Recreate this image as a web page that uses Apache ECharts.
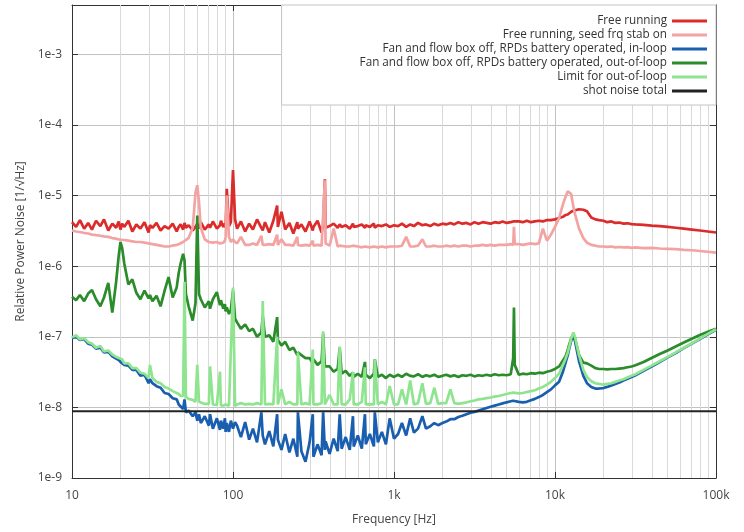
<!DOCTYPE html>
<html>
<head>
<meta charset="utf-8">
<title>Relative Power Noise</title>
<script src="https://cdn.jsdelivr.net/npm/echarts@6/dist/echarts.min.js"></script>
<style>
  html, body { margin: 0; padding: 0; background: #fff; }
  #main { width: 744px; height: 532px; }
</style>
</head>
<body>
<div id="main"></div>
<script>
// frequency grid [Hz], one row per decade
var freqs = [
  10, 10.6, 11.2, 11.9, 12.6, 13.3, 14.1, 15, 15.8, 16.8, 17.8, 18.8, 19.5, 20, 20.5, 21.1, 22.4, 23.7, 25.1, 26.6, 28.2, 29.9, 30.5, 31.6, 33.5, 35.5, 37.6, 39.8, 42.2, 44.7, 46, 47.3, 49, 50, 51, 53, 56.2, 58.5, 60, 61.5, 63.1, 66.8, 70.8, 72, 75, 79.4, 83, 84.1, 87, 89.1, 90, 91.5, 94.4, 97, 100, 103,
  106, 112, 119, 126, 133, 141, 150, 153, 158, 168, 178, 188, 190, 200, 211, 224, 237, 251, 253, 266, 282, 299, 313, 316, 335, 355, 363, 372, 376, 398, 422, 447, 460, 473, 501, 531, 556, 562, 596, 631, 660, 668, 708, 750, 760, 794, 841, 891, 940, 1000,
  1060, 1120, 1190, 1260, 1330, 1410, 1500, 1580, 1680, 1780, 1880, 2000, 2110, 2240, 2370, 2510, 2660, 2820, 2990, 3160, 3350, 3550, 3760, 3980, 4220, 4470, 4730, 5010, 5310, 5500, 5560, 5620, 5960, 6310, 6680, 7080, 7500, 7940, 8410, 8910, 9440, 10000,
  10600, 11200, 11600, 12000, 12300, 12600, 13000, 13300, 14100, 15000, 15800, 16800, 17800, 18800, 20000, 21100, 22400, 23700, 25100, 26600, 28200, 29900, 31600, 35500, 39800, 44700, 50100, 56200, 63100, 70800, 79400, 89100, 100000
];

var freeRunning = [
  4.2e-6, 3.6e-6, 4.5e-6, 3.4e-6, 4.1e-6, 3.3e-6, 4.4e-6, 3.7e-6, 4.6e-6, 3.2e-6, 4.0e-6, 3.5e-6, 4.3e-6, 3.3e-6, 4.0e-6, 3.6e-6, 4.4e-6, 3.1e-6, 3.9e-6, 3.4e-6, 4.2e-6, 3.0e-6, 3.8e-6, 3.5e-6, 4.1e-6, 3.2e-6, 3.7e-6, 3.4e-6, 4.0e-6, 3.1e-6, 3.6e-6, 3.9e-6, 3.3e-6, 4.1e-6, 3.5e-6, 3.8e-6, 3.2e-6, 3.6e-6, 4.0e-6, 3.4e-6, 4.2e-6, 3.3e-6, 3.9e-6, 3.5e-6, 4.3e-6, 3.4e-6, 3.8e-6, 4.4e-6, 3.6e-6, 4.0e-6, 3.5e-6, 1.25e-5, 3.7e-6, 4.2e-6, 2.3e-5, 4.6e-6,
  3.4e-6, 4.3e-6, 3.1e-6, 4.0e-6, 3.3e-6, 4.6e-6, 3.5e-6, 3.2e-6, 4.2e-6, 3.0e-6, 4.4e-6, 7.2e-6, 3.6e-6, 5.9e-6, 3.3e-6, 4.1e-6, 2.9e-6, 4.2e-6, 3.4e-6, 3.9e-6, 3.1e-6, 4.3e-6, 3.2e-6, 3.6e-6, 4.4e-6, 3.0e-6, 3.8e-6, 1.7e-5, 3.5e-6, 3.7e-6, 4.0e-6, 3.5e-6, 3.9e-6, 3.6e-6, 3.8e-6, 3.4e-6, 4.0e-6, 3.6e-6, 3.7e-6, 3.9e-6, 3.5e-6, 3.8e-6, 3.6e-6, 4.0e-6, 3.5e-6, 3.8e-6, 3.7e-6, 3.9e-6, 3.6e-6, 3.8e-6,
  3.7e-6, 4.0e-6, 3.6e-6, 3.9e-6, 3.7e-6, 4.1e-6, 3.8e-6, 3.9e-6, 3.7e-6, 4.0e-6, 3.8e-6, 4.0e-6, 3.9e-6, 4.1e-6, 3.9e-6, 4.2e-6, 4.0e-6, 4.1e-6, 3.9e-6, 4.2e-6, 4.0e-6, 4.2e-6, 4.1e-6, 4.0e-6, 4.2e-6, 4.1e-6, 4.3e-6, 4.1e-6, 4.2e-6, 4.3e-6, 4.1e-6, 4.2e-6, 4.3e-6, 4.2e-6, 4.4e-6, 4.2e-6, 4.3e-6, 4.4e-6, 4.3e-6, 4.5e-6, 4.5e-6, 4.6e-6,
  4.8e-6, 5.0e-6, 5.3e-6, 5.4e-6, 5.7e-6, 5.9e-6, 6.1e-6, 6.2e-6, 6.4e-6, 6.3e-6, 6.0e-6, 4.9e-6, 4.6e-6, 4.5e-6, 4.4e-6, 4.2e-6, 4.3e-6, 4.1e-6, 4.15e-6, 4.0e-6, 4.05e-6, 3.95e-6, 3.9e-6, 3.85e-6, 3.75e-6, 3.7e-6, 3.6e-6, 3.5e-6, 3.4e-6, 3.3e-6, 3.2e-6, 3.1e-6, 3.0e-6
];

var seedStab = [
  3.2e-6, 3.1e-6, 3.05e-6, 2.95e-6, 2.9e-6, 2.8e-6, 2.75e-6, 2.7e-6, 2.65e-6, 2.6e-6, 2.5e-6, 2.45e-6, 2.4e-6, 2.4e-6, 2.35e-6, 2.35e-6, 2.3e-6, 2.25e-6, 2.2e-6, 2.2e-6, 2.15e-6, 2.1e-6, 2.1e-6, 2.05e-6, 2.0e-6, 1.95e-6, 1.9e-6, 1.9e-6, 1.95e-6, 2.0e-6, 2.05e-6, 2.1e-6, 2.2e-6, 2.3e-6, 2.35e-6, 2.5e-6, 3.5e-6, 1.1e-5, 1.4e-5, 8e-6, 3.5e-6, 2.4e-6, 2.2e-6, 2.25e-6, 2.15e-6, 2.2e-6, 2.1e-6, 2.2e-6, 2.15e-6, 2.3e-6, 2.6e-6, 1.0e-5, 2.6e-6, 2.2e-6, 2.4e-6, 2.2e-6,
  2.1e-6, 2.6e-6, 2.0e-6, 2.0e-6, 2.1e-6, 2.0e-6, 2.7e-6, 2.0e-6, 2.0e-6, 2.05e-6, 2.0e-6, 2.8e-6, 2.0e-6, 2.4e-6, 2.0e-6, 2.0e-6, 1.95e-6, 2.6e-6, 2.0e-6, 1.95e-6, 2.0e-6, 1.95e-6, 2.3e-6, 1.95e-6, 2.0e-6, 1.95e-6, 2.0e-6, 1.65e-5, 2.1e-6, 1.95e-6, 3.4e-6, 1.9e-6, 1.95e-6, 1.9e-6, 1.9e-6, 1.9e-6, 1.95e-6, 1.9e-6, 1.9e-6, 1.85e-6, 1.9e-6, 1.9e-6, 1.85e-6, 1.9e-6, 1.9e-6, 1.85e-6, 1.9e-6, 1.85e-6, 1.9e-6, 1.9e-6,
  1.9e-6, 1.95e-6, 2.6e-6, 1.9e-6, 1.9e-6, 1.95e-6, 2.4e-6, 1.9e-6, 1.9e-6, 1.95e-6, 1.9e-6, 1.9e-6, 1.95e-6, 1.9e-6, 1.95e-6, 1.9e-6, 1.95e-6, 1.95e-6, 1.9e-6, 1.95e-6, 1.95e-6, 2.0e-6, 1.95e-6, 2.0e-6, 1.95e-6, 2.0e-6, 2.0e-6, 2.0e-6, 2.05e-6, 2.0e-6, 3.6e-6, 2.05e-6, 2.05e-6, 2.0e-6, 2.05e-6, 2.1e-6, 2.05e-6, 2.1e-6, 3.4e-6, 2.3e-6, 2.8e-6, 3.6e-6,
  4.8e-6, 7.5e-6, 9.5e-6, 1.15e-5, 1.2e-5, 1.05e-5, 7.0e-6, 5.5e-6, 3.4e-6, 2.5e-6, 2.15e-6, 2.0e-6, 1.95e-6, 1.9e-6, 1.9e-6, 1.88e-6, 1.9e-6, 1.85e-6, 1.87e-6, 1.85e-6, 1.86e-6, 1.82e-6, 1.85e-6, 1.8e-6, 1.82e-6, 1.78e-6, 1.76e-6, 1.74e-6, 1.7e-6, 1.68e-6, 1.64e-6, 1.6e-6, 1.56e-6
];

var inLoop = [
  9.5e-8, 1.0e-7, 9.0e-8, 9.3e-8, 8.0e-8, 7.7e-8, 6.8e-8, 7.0e-8, 6.0e-8, 6.1e-8, 5.3e-8, 4.9e-8, 4.7e-8, 4.4e-8, 4.5e-8, 4.0e-8, 3.9e-8, 3.4e-8, 3.4e-8, 2.8e-8, 2.9e-8, 2.2e-8, 2.5e-8, 2.2e-8, 2.0e-8, 1.9e-8, 1.6e-8, 1.55e-8, 1.35e-8, 1.3e-8, 1.1e-8, 1.15e-8, 9.5e-9, 1.3e-8, 8.5e-9, 9.0e-9, 7.5e-9, 8.5e-9, 6.5e-9, 8.0e-9, 6.0e-9, 7.5e-9, 5.5e-9, 8.0e-9, 5.0e-9, 7.0e-9, 4.8e-9, 6.5e-9, 5.0e-9, 7.0e-9, 4.5e-9, 6.0e-9, 4.5e-9, 6.5e-9, 5.0e-9, 6.2e-9,
  5.5e-9, 3.8e-9, 6.2e-9, 3.5e-9, 5.0e-9, 3.2e-9, 8.5e-9, 4.0e-9, 3.0e-9, 4.6e-9, 2.8e-9, 8.0e-9, 3.5e-9, 2.5e-9, 4.2e-9, 2.3e-9, 3.6e-9, 2.0e-9, 8.5e-9, 2.4e-9, 1.7e-9, 3.2e-9, 8.0e-9, 2.0e-9, 3.0e-9, 2.1e-9, 8.5e-9, 2.5e-9, 3.3e-9, 2.2e-9, 3.6e-9, 2.4e-9, 8.0e-9, 2.6e-9, 3.8e-9, 2.5e-9, 7.5e-9, 2.8e-9, 4.0e-9, 2.6e-9, 8.0e-9, 3.0e-9, 4.2e-9, 2.8e-9, 8.5e-9, 3.2e-9, 4.5e-9, 3.0e-9, 7.0e-9, 3.6e-9,
  4.2e-9, 6.0e-9, 4.0e-9, 7.0e-9, 4.4e-9, 5.0e-9, 7.5e-9, 5.0e-9, 5.4e-9, 6.0e-9, 5.6e-9, 6.0e-9, 6.3e-9, 6.8e-9, 6.8e-9, 7.3e-9, 7.6e-9, 8.0e-9, 8.4e-9, 8.6e-9, 9.0e-9, 9.4e-9, 9.8e-9, 1.02e-8, 1.06e-8, 1.1e-8, 1.14e-8, 1.18e-8, 1.22e-8, 1.24e-8, 1.24e-8, 1.23e-8, 1.2e-8, 1.18e-8, 1.2e-8, 1.26e-8, 1.32e-8, 1.4e-8, 1.5e-8, 1.65e-8, 1.8e-8, 2.05e-8,
  2.3e-8, 3.2e-8, 4.2e-8, 5.5e-8, 7.0e-8, 8.8e-8, 1.0e-7, 8.8e-8, 4.5e-8, 2.8e-8, 2.2e-8, 1.95e-8, 1.85e-8, 1.85e-8, 1.88e-8, 1.95e-8, 2.05e-8, 2.15e-8, 2.25e-8, 2.4e-8, 2.55e-8, 2.7e-8, 2.85e-8, 3.3e-8, 3.8e-8, 4.4e-8, 5.1e-8, 5.9e-8, 6.9e-8, 8.0e-8, 9.3e-8, 1.08e-7, 1.25e-7
];

var outLoop = [
  3.7e-7, 3.3e-7, 3.9e-7, 3.2e-7, 4.1e-7, 4.6e-7, 3.4e-7, 2.7e-7, 3.6e-7, 5.8e-7, 2.2e-7, 6.0e-7, 1.4e-6, 2.2e-6, 1.8e-6, 1.1e-6, 5.5e-7, 6.5e-7, 4.2e-7, 3.4e-7, 4.5e-7, 3.5e-7, 3.9e-7, 3.2e-7, 3.8e-7, 2.7e-7, 4.5e-7, 7.0e-7, 3.6e-7, 5.0e-7, 8.0e-7, 1.1e-6, 1.5e-6, 1.2e-6, 4.0e-7, 2.7e-7, 1.7e-7, 3.0e-7, 5.2e-6, 4.0e-7, 3.4e-7, 2.6e-7, 3.2e-7, 2.5e-7, 3.4e-7, 4.3e-7, 2.8e-7, 3.3e-7, 2.5e-7, 2.9e-7, 2.3e-7, 2.6e-7, 2.1e-7, 2.4e-7, 4.5e-7, 1.8e-7,
  1.6e-7, 1.3e-7, 1.5e-7, 1.2e-7, 1.3e-7, 1.0e-7, 1.15e-7, 2.0e-7, 1.0e-7, 1.05e-7, 8.5e-8, 1.9e-7, 9.0e-8, 7.5e-8, 8.5e-8, 6.5e-8, 7.0e-8, 5.5e-8, 6.0e-8, 5.5e-8, 5.0e-8, 5.0e-8, 4.2e-8, 4.8e-8, 4.0e-8, 4.5e-8, 1.1e-7, 3.8e-8, 3.6e-8, 3.8e-8, 3.2e-8, 3.5e-8, 7.0e-8, 3.0e-8, 3.3e-8, 2.8e-8, 3.1e-8, 2.7e-8, 3.0e-8, 2.7e-8, 4.4e-8, 2.9e-8, 2.6e-8, 3.0e-8, 4.8e-8, 2.7e-8, 2.9e-8, 2.6e-8, 2.9e-8, 2.7e-8,
  2.9e-8, 2.7e-8, 3.0e-8, 2.8e-8, 2.75e-8, 2.95e-8, 2.7e-8, 2.85e-8, 2.75e-8, 2.9e-8, 2.7e-8, 2.8e-8, 2.9e-8, 2.75e-8, 2.85e-8, 2.7e-8, 2.85e-8, 2.8e-8, 2.9e-8, 2.75e-8, 2.85e-8, 2.8e-8, 2.9e-8, 2.8e-8, 2.95e-8, 2.85e-8, 2.9e-8, 2.85e-8, 2.95e-8, 5.0e-8, 2.6e-7, 4.0e-8, 2.9e-8, 3.0e-8, 2.95e-8, 3.05e-8, 3.0e-8, 3.1e-8, 3.05e-8, 3.2e-8, 3.3e-8, 3.5e-8,
  3.8e-8, 4.6e-8, 5.2e-8, 6.5e-8, 8.0e-8, 9.5e-8, 1.08e-7, 9.5e-8, 5.5e-8, 4.3e-8, 4.2e-8, 3.9e-8, 3.6e-8, 3.5e-8, 3.5e-8, 3.45e-8, 3.5e-8, 3.5e-8, 3.55e-8, 3.6e-8, 3.7e-8, 3.8e-8, 3.95e-8, 4.4e-8, 5.0e-8, 5.7e-8, 6.4e-8, 7.3e-8, 8.3e-8, 9.4e-8, 1.06e-7, 1.18e-7, 1.3e-7
];

var outLoopLimit = [
  9.8e-8, 1.05e-7, 9.2e-8, 9.6e-8, 8.4e-8, 8.0e-8, 7.0e-8, 7.4e-8, 6.2e-8, 6.4e-8, 5.6e-8, 5.2e-8, 5.0e-8, 4.7e-8, 4.8e-8, 4.2e-8, 4.2e-8, 3.6e-8, 3.6e-8, 3.1e-8, 3.0e-8, 2.6e-8, 4.0e-8, 2.6e-8, 2.3e-8, 2.2e-8, 1.95e-8, 1.85e-8, 1.7e-8, 1.6e-8, 1.55e-8, 1.45e-8, 1.45e-8, 6.0e-7, 1.4e-8, 1.32e-8, 1.28e-8, 1.2e-8, 4.0e-8, 1.2e-8, 1.18e-8, 1.12e-8, 1.12e-8, 3.8e-8, 1.1e-8, 1.08e-8, 3.2e-8, 1.07e-8, 1.06e-8, 1.05e-8, 1.1e-8, 1.05e-8, 1.06e-8, 1.04e-8, 5.0e-7, 1.05e-8,
  1.1e-8, 1.15e-8, 1.1e-8, 1.12e-8, 1.1e-8, 1.15e-8, 1.1e-8, 3.2e-7, 1.1e-8, 1.12e-8, 1.1e-8, 1.0e-7, 1.1e-8, 1.8e-8, 1.1e-8, 1.2e-8, 1.1e-8, 1.1e-8, 6.0e-8, 1.1e-8, 1.15e-8, 1.1e-8, 6.6e-8, 1.1e-8, 1.1e-8, 1.15e-8, 1.2e-7, 1.1e-8, 1.1e-8, 1.5e-8, 1.1e-8, 1.1e-8, 7.3e-8, 1.1e-8, 1.1e-8, 1.3e-8, 3.2e-8, 1.1e-8, 1.1e-8, 1.2e-8, 3.7e-8, 1.1e-8, 1.1e-8, 1.1e-8, 4.8e-8, 1.1e-8, 1.2e-8, 1.1e-8, 2.0e-8, 1.1e-8,
  1.1e-8, 1.8e-8, 1.1e-8, 2.4e-8, 1.1e-8, 1.15e-8, 2.2e-8, 1.12e-8, 1.15e-8, 1.9e-8, 1.12e-8, 1.15e-8, 1.15e-8, 1.8e-8, 1.15e-8, 1.12e-8, 1.15e-8, 1.18e-8, 1.22e-8, 1.25e-8, 1.3e-8, 1.32e-8, 1.35e-8, 1.38e-8, 1.42e-8, 1.45e-8, 1.5e-8, 1.55e-8, 1.6e-8, 1.62e-8, 1.62e-8, 1.6e-8, 1.58e-8, 1.6e-8, 1.65e-8, 1.7e-8, 1.75e-8, 1.85e-8, 1.95e-8, 2.1e-8, 2.3e-8, 2.6e-8,
  3.0e-8, 4.0e-8, 4.8e-8, 6.0e-8, 7.5e-8, 9.5e-8, 1.15e-7, 1.0e-7, 5.5e-8, 3.4e-8, 2.7e-8, 2.35e-8, 2.2e-8, 2.15e-8, 2.1e-8, 2.15e-8, 2.2e-8, 2.3e-8, 2.4e-8, 2.5e-8, 2.65e-8, 2.8e-8, 2.95e-8, 3.4e-8, 3.9e-8, 4.5e-8, 5.2e-8, 6.0e-8, 7.0e-8, 8.1e-8, 9.4e-8, 1.1e-7, 1.28e-7
];

var shotFreq = [10, 100000];
var shotNoise = [8.8e-9, 8.8e-9];

var names = [
  'Free running',
  'Free running, seed frq stab on',
  'Fan and flow box off, RPDs battery operated, in-loop',
  'Fan and flow box off, RPDs battery operated, out-of-loop',
  'Limit for out-of-loop',
  'shot noise total'
];
var colors = ['#dc2b2b', '#f4a3a3', '#1a5eaf', '#2a8c2a', '#8fe58f', '#222222'];
var xTickLabels = ['10', '100', '1k', '10k', '100k'];
var yTickLabels = ['1e-9', '1e-8', '1e-7', '1e-6', '1e-5', '1e-4', '1e-3'];

// minor grid positions 2..9 in each decade
var minorX = [], minorY = [];
for (var d = 1; d <= 4; d++) for (var k = 2; k <= 9; k++) minorX.push(k * Math.pow(10, d));
for (var e = -9; e <= -3; e++) for (var k2 = 2; k2 <= 9; k2++) {
  var v = k2 * Math.pow(10, e);
  if (v < 5e-3) minorY.push(v);
}

function pairs(xs, ys) {
  return xs.map(function (x, i) { return [x, ys[i]]; });
}

function decadeIndex(v) {
  var l = Math.log10(v), r = Math.round(l);
  return Math.abs(l - r) < 1e-6 ? r : null;
}

var font = 'Open Sans';
var frame = '#333';

var seriesValues = [freeRunning, seedStab, inLoop, outLoop, outLoopLimit];
var series = [{
  type: 'line', name: 'minor-grid', data: [], silent: true, z: 1,
  markLine: {
    silent: true, symbol: ['none', 'none'], z: 1, animation: false,
    label: { show: false },
    lineStyle: { color: '#d9d9d9', width: 1, type: 'solid' },
    data: minorX.map(function (x) { return { xAxis: x }; })
      .concat(minorY.map(function (y) { return { yAxis: y }; }))
  }
}];
seriesValues.forEach(function (vals, i) {
  series.push({
    type: 'line', name: names[i], data: pairs(freqs, vals),
    symbol: 'none', showSymbol: false, sampling: null,
    lineStyle: { width: 2.7, color: colors[i], join: 'bevel' }, itemStyle: { color: colors[i] },
    z: 2 + i
  });
});
series.push({
  type: 'line', name: names[5], data: pairs(shotFreq, shotNoise),
  symbol: 'none', showSymbol: false,
  lineStyle: { width: 2, color: colors[5] }, itemStyle: { color: colors[5] },
  z: 8
});

var chart = echarts.init(document.getElementById('main'));
chart.setOption({
  animation: false,
  backgroundColor: '#fff',
  textStyle: { fontFamily: font },
  grid: { left: 72, right: 28, top: 5, bottom: 54 },
  legend: {
    data: names.map(function (n, i) { return { name: n, icon: 'rect', itemStyle: { color: colors[i] } }; }),
    orient: 'vertical', right: 28, top: 5, align: 'right',
    itemWidth: 35, itemHeight: 3, itemGap: 2,
    padding: [10, 9, 8, 78],
    backgroundColor: '#fff', borderColor: '#c4c4c4', borderWidth: 1,
    textStyle: { fontSize: 11.7, color: '#333', fontFamily: font },
    selectedMode: false
  },
  xAxis: [{
    type: 'log', logBase: 10, min: 10, max: 100000,
    name: 'Frequency [Hz]', nameLocation: 'middle', nameGap: 36,
    nameTextStyle: { fontSize: 12, color: '#444', fontFamily: font },
    axisLine: { show: true, lineStyle: { color: frame } },
    axisTick: { show: true, inside: true, length: 6, lineStyle: { color: frame } },
    axisLabel: {
      margin: 12, fontSize: 12, color: '#444', fontFamily: font,
      formatter: function (v) { var r = decadeIndex(v); return r == null ? '' : (xTickLabels[r - 1] || ''); }
    },
    splitLine: { show: true, lineStyle: { color: '#c2c2c2', width: 1 } }
  }, {
    type: 'log', logBase: 10, min: 10, max: 100000, position: 'top',
    axisLine: { show: true, lineStyle: { color: frame } },
    axisTick: { show: true, inside: true, length: 6, lineStyle: { color: frame } },
    axisLabel: { show: false }, splitLine: { show: false }
  }],
  yAxis: [{
    type: 'log', logBase: 10, min: 1e-9, max: 5e-3,
    name: 'Relative Power Noise [1/\u221AHz]', nameLocation: 'middle', nameGap: 40,
    nameTextStyle: { fontSize: 12, color: '#444', fontFamily: font },
    axisLine: { show: true, lineStyle: { color: frame } },
    axisTick: { show: true, inside: true, length: 6, lineStyle: { color: frame } },
    axisLabel: {
      margin: 10, fontSize: 12, color: '#444', fontFamily: font,
      formatter: function (v) { var r = decadeIndex(v); return r == null ? '' : (yTickLabels[r + 9] || ''); }
    },
    splitLine: { show: true, lineStyle: { color: '#c2c2c2', width: 1 } }
  }, {
    type: 'log', logBase: 10, min: 1e-9, max: 5e-3, position: 'right',
    axisLine: { show: true, lineStyle: { color: frame } },
    axisTick: { show: true, inside: true, length: 6, lineStyle: { color: frame } },
    axisLabel: { show: false }, splitLine: { show: false }
  }],
  series: series
});
</script>
</body>
</html>
